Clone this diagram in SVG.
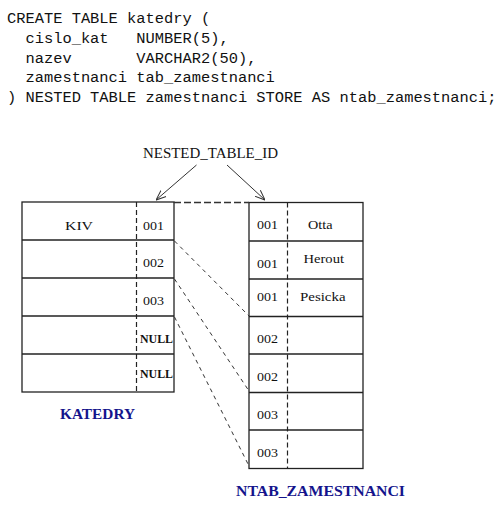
<svg xmlns="http://www.w3.org/2000/svg" width="504" height="511" viewBox="0 0 504 511">
<style>
.code{font-family:"Liberation Mono","DejaVu Sans Mono",monospace;font-size:15.4px;fill:#111;white-space:pre}
.cell{font-family:"Liberation Serif","Times New Roman",serif;font-size:13px;fill:#111}
.null{font-family:"Liberation Serif","Times New Roman",serif;font-size:12px;font-weight:bold;fill:#111}
.lbl{font-family:"Liberation Serif","Times New Roman",serif;font-size:14px;fill:#111}
.title{font-family:"Liberation Serif","Times New Roman",serif;font-size:15.5px;font-weight:bold;fill:#14148c}
.tbl{fill:#fff;stroke:#222;stroke-width:1.3}
.row{stroke:#222;stroke-width:1.3}
.vd{stroke:#222;stroke-width:1.2;stroke-dasharray:5 3}
.top{stroke:#333;stroke-width:1.3;stroke-dasharray:7 3;fill:none}
.diag{stroke:#333;stroke-width:1;stroke-dasharray:4 4;fill:none}
.arr{stroke:#333;stroke-width:1;fill:none;marker-end:url(#ah)}
</style>
<defs>
<marker id="ah" viewBox="0 0 10 10" refX="10" refY="5" markerWidth="10" markerHeight="10" markerUnits="userSpaceOnUse" orient="auto">
<path d="M0,1 L10,5 L0,9" fill="none" stroke="#333" stroke-width="1"/>
</marker>
</defs>
<g id="sql">
<text class="code" x="7" y="23" xml:space="preserve">CREATE TABLE katedry (</text>
<text class="code" x="7" y="43" xml:space="preserve">  cislo_kat   NUMBER(5),</text>
<text class="code" x="7" y="63" xml:space="preserve">  nazev       VARCHAR2(50),</text>
<text class="code" x="7" y="82" xml:space="preserve">  zamestnanci tab_zamestnanci</text>
<text class="code" x="7" y="102" xml:space="preserve">) NESTED TABLE zamestnanci STORE AS ntab_zamestnanci;</text>
</g>
<g id="katedry">
<rect class="tbl" x="22" y="202" width="152" height="190"/>
<line class="row" x1="22" y1="240" x2="174" y2="240"/>
<line class="row" x1="22" y1="278" x2="174" y2="278"/>
<line class="row" x1="22" y1="316" x2="174" y2="316"/>
<line class="row" x1="22" y1="354" x2="174" y2="354"/>
<line class="vd" x1="136.5" y1="202" x2="136.5" y2="392"/>
<text class="cell" x="65" y="230" textLength="28" lengthAdjust="spacingAndGlyphs">KIV</text>
<text class="cell" x="143" y="230" textLength="21" lengthAdjust="spacingAndGlyphs">001</text>
<text class="cell" x="143" y="267" textLength="21" lengthAdjust="spacingAndGlyphs">002</text>
<text class="cell" x="143" y="305" textLength="21" lengthAdjust="spacingAndGlyphs">003</text>
<text class="null" x="140" y="343" textLength="33" lengthAdjust="spacingAndGlyphs">NULL</text>
<text class="null" x="140" y="378" textLength="33" lengthAdjust="spacingAndGlyphs">NULL</text>
<text class="title" x="60" y="419" textLength="75" lengthAdjust="spacingAndGlyphs">KATEDRY</text>
</g>
<g id="ntab_zamestnanci">
<rect class="tbl" x="249" y="202.5" width="114" height="266"/>
<line class="row" x1="249" y1="241" x2="363" y2="241"/>
<line class="row" x1="249" y1="279" x2="363" y2="279"/>
<line class="row" x1="249" y1="316.5" x2="363" y2="316.5"/>
<line class="row" x1="249" y1="354" x2="363" y2="354"/>
<line class="row" x1="249" y1="392.5" x2="363" y2="392.5"/>
<line class="row" x1="249" y1="430" x2="363" y2="430"/>
<line class="vd" x1="287.5" y1="202.5" x2="287.5" y2="468.5"/>
<text class="cell" x="257" y="229" textLength="21" lengthAdjust="spacingAndGlyphs">001</text>
<text class="cell" x="257" y="268" textLength="21" lengthAdjust="spacingAndGlyphs">001</text>
<text class="cell" x="257" y="301" textLength="21" lengthAdjust="spacingAndGlyphs">001</text>
<text class="cell" x="257" y="343" textLength="21" lengthAdjust="spacingAndGlyphs">002</text>
<text class="cell" x="257" y="381" textLength="21" lengthAdjust="spacingAndGlyphs">002</text>
<text class="cell" x="257" y="419" textLength="21" lengthAdjust="spacingAndGlyphs">003</text>
<text class="cell" x="257" y="457" textLength="21" lengthAdjust="spacingAndGlyphs">003</text>
<text class="cell" x="308" y="229" textLength="24.5" lengthAdjust="spacingAndGlyphs">Otta</text>
<text class="cell" x="303.5" y="263" textLength="40.5" lengthAdjust="spacingAndGlyphs">Herout</text>
<text class="cell" x="300" y="301" textLength="45.5" lengthAdjust="spacingAndGlyphs">Pesicka</text>
<text class="title" x="236" y="495.5" textLength="169" lengthAdjust="spacingAndGlyphs">NTAB_ZAMESTNANCI</text>
</g>
<g id="nested_table_id">
<text class="lbl" x="143" y="158" textLength="135" lengthAdjust="spacingAndGlyphs">NESTED_TABLE_ID</text>
</g>
<g id="connectors">
<line class="arr" x1="196.5" y1="165" x2="156" y2="200"/>
<line class="arr" x1="227" y1="165" x2="265" y2="200"/>
<line class="top" x1="174" y1="202.5" x2="249" y2="202.5"/>
<line class="diag" x1="174.5" y1="241" x2="249" y2="316"/>
<line class="diag" x1="174.5" y1="279" x2="249" y2="391"/>
<line class="diag" x1="174.5" y1="317" x2="249" y2="466"/>
</g>
</svg>
